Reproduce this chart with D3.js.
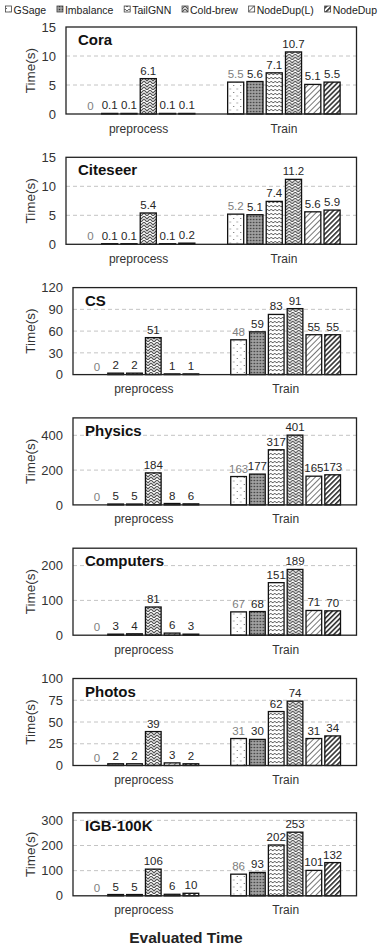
<!DOCTYPE html>
<html>
<head>
<meta charset="utf-8">
<script src="https://cdn.jsdelivr.net/npm/d3@7"></script>
<style>
  body { margin: 0; background: #fff; }
  svg { display: block; font-family: "Liberation Sans", Arial, sans-serif; }
</style>
</head>
<body>
<div id="chart"></div>
<script>
// data
const series = ["GSage", "Imbalance", "TailGNN", "Cold-brew", "NodeDup(L)", "NodeDup"];
const categories = ["preprocess", "Train"];
const datasets = ["Cora", "Citeseer", "CS", "Physics", "Computers", "Photos", "IGB-100K"];

const preprocessTimes = [
  [0, 0.1, 0.1, 6.1, 0.1, 0.1],
  [0, 0.1, 0.1, 5.4, 0.1, 0.2],
  [0, 2, 2, 51, 1, 1],
  [0, 5, 5, 184, 8, 6],
  [0, 3, 4, 81, 6, 3],
  [0, 2, 2, 39, 3, 2],
  [0, 5, 5, 106, 6, 10]
];
const trainTimes = [
  [5.5, 5.6, 7.1, 10.7, 5.1, 5.5],
  [5.2, 5.1, 7.4, 11.2, 5.6, 5.9],
  [48, 59, 83, 91, 55, 55],
  [163, 177, 317, 401, 165, 173],
  [67, 68, 151, 189, 71, 70],
  [31, 30, 62, 74, 31, 34],
  [86, 93, 202, 253, 101, 132]
];
const yMax = [15, 15, 120, 500, 250, 100, 330];
const yTicks = [
  [0, 5, 10, 15],
  [0, 5, 10, 15],
  [0, 30, 60, 90, 120],
  [0, 200, 400],
  [0, 100, 200],
  [0, 25, 50, 75, 100],
  [0, 100, 200, 300]
];

const width = 379, height = 947;
const svg = d3.select("#chart").append("svg")
  .attr("width", width)
  .attr("height", height);

// fill patterns
const defs = svg.append("defs");
function pattern(id, w, h, transform) {
  let p = defs.append("pattern")
    .attr("id", id)
    .attr("patternUnits", "userSpaceOnUse")
    .attr("width", w)
    .attr("height", h);
  if (transform) p.attr("patternTransform", transform);
  p.append("rect").attr("width", w).attr("height", h).attr("fill", "#fff");
  return p;
}

let p0 = pattern("pat0", 7, 7);
p0.append("rect").attr("x", 1).attr("y", 1).attr("width", 1).attr("height", 1).attr("fill", "#666");
p0.append("rect").attr("x", 4.5).attr("y", 4.5).attr("width", 1).attr("height", 1).attr("fill", "#666");

let p1 = pattern("pat1", 3, 3);
p1.select("rect").attr("fill", "#8c8c8c");
p1.append("rect").attr("x", 0).attr("y", 0).attr("width", 1).attr("height", 1).attr("fill", "#333");
p1.append("rect").attr("x", 1.5).attr("y", 1.5).attr("width", 1).attr("height", 1).attr("fill", "#ddd");

let p2 = pattern("pat2", 4, 4);
p2.append("path").attr("d", "M0,1.2 L2,3 L4,1.2").attr("fill", "none").attr("stroke", "#333").attr("stroke-width", 0.8);

let p3 = pattern("pat3", 6, 6);
p3.append("path").attr("d", "M0,0 L3,3 L6,0 M0,3 L3,6 L6,3").attr("fill", "none").attr("stroke", "#555").attr("stroke-width", 1.2);

let p4 = pattern("pat4", 4, 4, "rotate(45)");
p4.append("line").attr("x1", 0.5).attr("y1", 0).attr("x2", 0.5).attr("y2", 4).attr("stroke", "#777").attr("stroke-width", 1);

let p5 = pattern("pat5", 3.5, 3.5, "rotate(45)");
p5.append("line").attr("x1", 0.8).attr("y1", 0).attr("x2", 0.8).attr("y2", 3.5).attr("stroke", "#222").attr("stroke-width", 1.5);

const fills = series.map((s, i) => "url(#pat" + i + ")");

// legend, spread across the top edge
let legend = svg.append("g").attr("transform", "translate(5,0)");
let items = series.map((s, i) => {
  let m = legend.append("rect")
    .attr("y", 6)
    .attr("width", 6).attr("height", 6)
    .attr("fill", fills[i])
    .attr("stroke", "#444").attr("stroke-width", 0.8);
  let t = legend.append("text")
    .attr("y", 13.5)
    .attr("font-size", 10.5)
    .attr("fill", "#222")
    .text(s);
  return { m: m, t: t, w: t.node().getComputedTextLength() };
});
let totalText = d3.sum(items, d => d.w);
let gap = (372 - totalText - items.length * 8.5) / (items.length - 1);
let lx = 0;
items.forEach(d => {
  d.m.attr("x", lx + 0.5);
  d.t.attr("x", lx + 8.5);
  lx += 8.5 + d.w + gap;
});

const right = 356.5;

datasets.forEach((name, i) => {
  let maxChars = d3.max(yTicks[i], d => String(d).length);
  let left = 52 + 7 * maxChars;
  let bottom = 114 + i * 130.3;
  let plotH = i === 6 ? 83 : 87;

  let y = d3.scaleLinear().domain([0, yMax[i]]).range([bottom, bottom - plotH]);
  let x0 = d3.scaleBand().domain(categories).range([left, right]);
  let x1 = d3.scaleBand().domain(series).range([0, x0.bandwidth()])
    .paddingInner(1 / 6).paddingOuter(0.85);

  let g = svg.append("g");

  // gridlines
  g.selectAll(".grid")
    .data(yTicks[i].filter(t => t > 0 && t < yMax[i]))
    .enter()
    .append("line")
      .attr("x1", left).attr("x2", right)
      .attr("y1", d => y(d)).attr("y2", d => y(d))
      .attr("stroke", "#c4c4c4")
      .attr("stroke-dasharray", "4,3");

  // y axis tick labels
  let yAxis = g.append("g")
    .attr("transform", "translate(" + left + ",0)")
    .call(d3.axisLeft(y).tickValues(yTicks[i]).tickSize(0).tickPadding(10));
  yAxis.select(".domain").remove();
  yAxis.selectAll("text")
    .attr("font-size", 13)
    .attr("font-family", "Liberation Sans, Arial, sans-serif")
    .attr("fill", "#333");

  // y title
  g.append("text")
    .attr("transform", "translate(35," + (bottom - plotH / 2) + ") rotate(-90)")
    .attr("text-anchor", "middle")
    .attr("font-size", 13.5)
    .attr("fill", "#333")
    .text("Time(s)");

  // bars
  let rows = [preprocessTimes[i], trainTimes[i]];
  categories.forEach((c, ci) => {
    let grp = g.append("g").attr("transform", "translate(" + x0(c) + ",0)");
    grp.selectAll("rect")
      .data(rows[ci])
      .enter()
      .append("rect")
        .attr("x", (d, k) => x1(series[k]))
        .attr("y", d => y(d))
        .attr("width", x1.bandwidth())
        .attr("height", d => bottom - y(d))
        .attr("fill", (d, k) => fills[k])
        .attr("stroke", "#111")
        .attr("stroke-width", 1.3);
    grp.selectAll("text")
      .data(rows[ci])
      .enter()
      .append("text")
        .attr("x", (d, k) => x1(series[k]) + x1.bandwidth() / 2)
        .attr("y", d => y(d) - 4)
        .attr("text-anchor", "middle")
        .attr("font-size", 11.5)
        .attr("fill", (d, k) => k === 0 ? "#808080" : "#262626")
        .text(d => d);
  });

  // frame
  g.append("rect")
    .attr("x", left).attr("y", bottom - plotH)
    .attr("width", right - left).attr("height", plotH)
    .attr("fill", "none")
    .attr("stroke", "#222")
    .attr("stroke-width", 1.3);

  // dataset name
  g.append("text")
    .attr("x", left + 12).attr("y", bottom - plotH + 18)
    .attr("font-size", 15)
    .attr("font-weight", "bold")
    .attr("fill", "#111")
    .text(name);

  // category labels
  g.selectAll(".cat")
    .data(categories)
    .enter()
    .append("text")
      .attr("x", d => x0(d) + x0.bandwidth() / 2)
      .attr("y", bottom + 18.5)
      .attr("text-anchor", "middle")
      .attr("font-size", 12)
      .attr("fill", "#333")
      .text(d => d);
});

svg.append("text")
  .attr("x", 186).attr("y", 943)
  .attr("text-anchor", "middle")
  .attr("font-size", 15.5)
  .attr("font-weight", "bold")
  .attr("fill", "#222")
  .text("Evaluated Time");
</script>
</body>
</html>
